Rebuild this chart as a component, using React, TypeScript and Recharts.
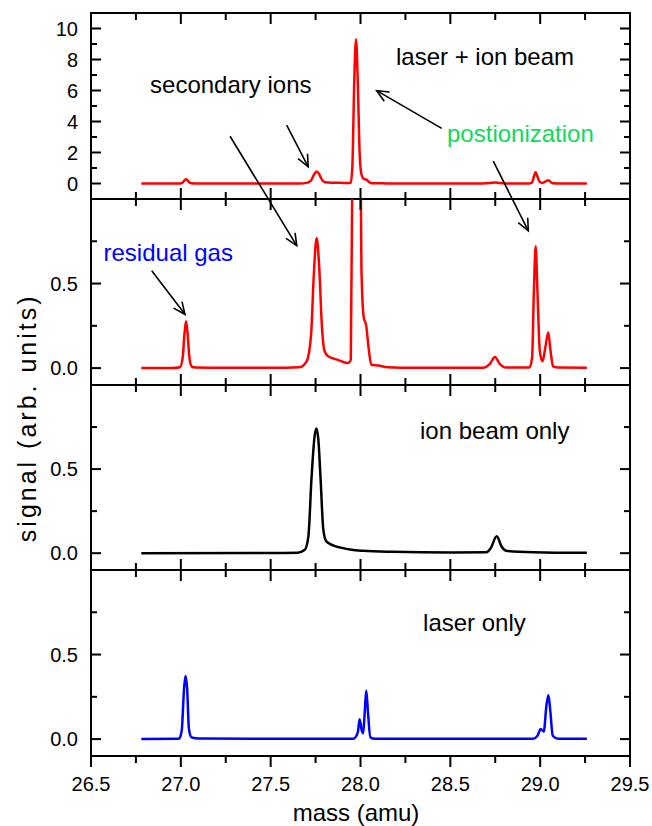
import React from "react";
import { LineChart, Line, XAxis, YAxis, ReferenceLine, ReferenceDot, ReferenceArea } from "recharts";

const W = 652;
const FONT = '"Liberation Sans", Arial, sans-serif';

// axis ticks
const massMajor = [26.5, 27.0, 27.5, 28.0, 28.5, 29.0, 29.5];
const massMinor = [26.75, 27.25, 27.75, 28.25, 28.75, 29.25];
const bigMajor = [0, 2, 4, 6, 8, 10];
const bigMinor = [1, 3, 5, 7, 9];
const smallMajor = [0, 0.5];
const smallMinor = [0.25, 0.75];

// laser + ion beam (red), used by the two top panels
const redMass = [
  26.78, 26.95, 26.995, 27.01, 27.02, 27.029, 27.038, 27.048, 27.06, 27.08, 27.5, 27.66, 27.7, 27.725,
  27.74, 27.756, 27.77, 27.785, 27.8, 27.82, 27.87, 27.93, 27.946, 27.955, 27.965, 27.975, 27.985,
  27.995, 28.005, 28.018, 28.032, 28.045, 28.06, 28.1, 28.15, 28.3, 28.68, 28.72, 28.748, 28.775,
  28.81, 28.94, 28.955, 28.965, 28.975, 28.985, 28.998, 29.013, 29.03, 29.045, 29.058, 29.072, 29.1,
  29.26,
];
const redSignal = [
  0, 0, 0.005, 0.06, 0.2, 0.277, 0.2, 0.06, 0.01, 0.003, 0.002, 0.005, 0.04, 0.2, 0.55, 0.77, 0.6,
  0.25, 0.1, 0.07, 0.05, 0.03, 0.05, 1.2, 6.5, 9.3, 6.5, 2, 0.6, 0.3, 0.25, 0.12, 0.02, 0.015, 0.005,
  0.002, 0.002, 0.025, 0.065, 0.025, 0.003, 0.003, 0.06, 0.45, 0.72, 0.45, 0.1, 0.04, 0.13, 0.21, 0.1,
  0.01, 0.003, 0.002,
];

// ion beam only (black)
const blackMass = [
  26.78, 27.5, 27.65, 27.69, 27.71, 27.727, 27.745, 27.755, 27.765, 27.778, 27.793, 27.81, 27.85,
  27.89, 27.95, 28.015, 28.18, 28.5, 28.7, 28.725, 28.758, 28.785, 28.81, 28.88, 29.1, 29.26,
];
const blackSignal = [
  0, 0.001, 0.003, 0.02, 0.1, 0.44, 0.7, 0.742, 0.68, 0.44, 0.14, 0.07, 0.045, 0.033, 0.02, 0.014,
  0.008, 0.004, 0.005, 0.03, 0.1, 0.04, 0.015, 0.008, 0.003, 0.002,
];

// laser only (blue)
const blueMass = [
  26.78, 26.99, 27.005, 27.018, 27.026, 27.035, 27.045, 27.06, 27.1, 27.96, 27.985, 27.995, 28.007,
  28.015, 28.023, 28.032, 28.042, 28.055, 28.08, 28.96, 28.985, 29.003, 29.02, 29.035, 29.046,
  29.057, 29.07, 29.1, 29.26,
];
const blueSignal = [
  0, 0.002, 0.05, 0.3, 0.373, 0.3, 0.06, 0.01, 0.003, 0.002, 0.04, 0.118, 0.05, 0.035, 0.15, 0.288,
  0.15, 0.01, 0.002, 0.002, 0.02, 0.06, 0.045, 0.2, 0.26, 0.16, 0.02, 0.002, 0.002,
];

const rows = (m: number[], s: number[]) => m.map((x, i) => ({ m: x, s: s[i] }));

// one tick mark, starting on the frame at (cx, cy)
const tickMark = (dx: number, dy: number) => (p: any) => (
  <path d={`M${p.cx},${p.cy}l${dx},${dy}`} stroke="#000" strokeWidth={2} fill="none" />
);

const arrow = (p: any) => {
  const { x1, y1, x2, y2 } = p;
  const a = Math.atan2(y2 - y1, x2 - x1);
  const L = 13;
  const w = 0.42;
  const ax = x2 - L * Math.cos(a - w);
  const ay = y2 - L * Math.sin(a - w);
  const bx = x2 - L * Math.cos(a + w);
  const by = y2 - L * Math.sin(a + w);
  return (
    <g>
      <line x1={x1} y1={y1} x2={x2} y2={y2} stroke="#000" strokeWidth={1.6} />
      <polyline points={`${ax},${ay} ${x2},${y2} ${bx},${by}`} fill="none" stroke="#000" strokeWidth={1.6} />
    </g>
  );
};

const note = (text: string, color = "#000", size = 24, angle = 0, spacing = 0) => (p: any) => (
  <text
    x={p.cx}
    y={p.cy}
    dy="0.35em"
    textAnchor="middle"
    fontSize={size}
    fontFamily={FONT}
    fill={color}
    letterSpacing={spacing}
    transform={angle ? `rotate(${angle} ${p.cx} ${p.cy})` : undefined}
  >
    {text}
  </text>
);

type PanelProps = {
  height: number;
  top?: number;
  domain: [number, number];
  major: number[];
  minor: number[];
  fmt: (v: number) => string;
  data: { m: number; s: number }[];
  color: string;
  clip?: boolean;
  last?: boolean;
  children?: React.ReactNode;
};

const Panel = ({ height, top = 0, domain, major, minor, fmt, data, color, clip, last, children }: PanelProps) => {
  const [lo, hi] = domain;
  const xLen = (v: number) => (massMajor.includes(v) ? 11 : 7);
  const yLen = (v: number) => (major.includes(v) ? 10 : 6);
  return (
    <LineChart width={W} height={height} data={data} margin={{ top, right: 22, bottom: 0, left: 31 }}>
      <XAxis
        dataKey="m"
        type="number"
        domain={[26.5, 29.5]}
        ticks={massMajor}
        hide={!last}
        height={70}
        axisLine={false}
        tickLine={false}
        tickSize={0}
        tickMargin={21}
        tick={{ fill: "#000", fontSize: 20, fontFamily: FONT }}
        tickFormatter={(v: number) => v.toFixed(1)}
      />
      <YAxis
        type="number"
        domain={domain}
        allowDataOverflow={!!clip}
        ticks={major}
        width={60}
        axisLine={false}
        tickLine={false}
        tickSize={0}
        tickMargin={13}
        tick={{ fill: "#000", fontSize: 20, fontFamily: FONT }}
        tickFormatter={fmt}
      />
      <ReferenceArea
        x1={26.5}
        x2={29.5}
        y1={lo}
        y2={hi}
        ifOverflow="visible"
        fill="none"
        fillOpacity={0}
        stroke="#000"
        strokeWidth={2}
        strokeOpacity={1}
      />
      <Line dataKey="s" type="monotone" stroke={color} strokeWidth={2.5} dot={false} isAnimationActive={false} />
      {[...massMajor, ...massMinor].map((v) => (
        <ReferenceDot key={`b${v}`} x={v} y={lo} r={1} ifOverflow="visible" shape={tickMark(0, last ? xLen(v) : -xLen(v))} />
      ))}
      {[...massMajor, ...massMinor].map((v) => (
        <ReferenceDot key={`t${v}`} x={v} y={hi} r={1} ifOverflow="visible" shape={tickMark(0, xLen(v))} />
      ))}
      {[...major, ...minor].map((v) => (
        <ReferenceDot key={`l${v}`} x={26.5} y={v} r={1} ifOverflow="visible" shape={tickMark(yLen(v), 0)} />
      ))}
      {[...major, ...minor].map((v) => (
        <ReferenceDot key={`r${v}`} x={29.5} y={v} r={1} ifOverflow="visible" shape={tickMark(-yLen(v), 0)} />
      ))}
      {children}
    </LineChart>
  );
};

const one = (v: number) => v.toFixed(1);
const whole = (v: number) => String(v);

export default function App() {
  const red = rows(redMass, redSignal);
  return (
    <div style={{ position: "absolute", left: 0, top: 0, width: W }}>
      <style>{".recharts-surface{overflow:visible}"}</style>
      <Panel height={199} top={13} domain={[-1, 11]} major={bigMajor} minor={bigMinor} fmt={whole} data={red} color="#ff0000">
        <ReferenceLine segment={[{ x: 27.589, y: 3.77 }, { x: 27.709, y: 1.08 }]} ifOverflow="visible" shape={arrow} />
        <ReferenceLine segment={[{ x: 28.452, y: 3.56 }, { x: 28.09, y: 5.99 }]} ifOverflow="visible" shape={arrow} />
        <ReferenceDot x={28.693} y={8.19} r={0} ifOverflow="visible" shape={note("laser + ion beam")} />
        <ReferenceDot x={27.278} y={6.36} r={0} ifOverflow="visible" shape={note("secondary ions")} />
        <ReferenceDot x={28.89} y={3.2} r={0} ifOverflow="visible" shape={note("postionization", "#12d85c")} />
      </Panel>
      <Panel height={186} domain={[-0.1, 1]} major={smallMajor} minor={smallMinor} fmt={one} data={red} color="#ff0000" clip>
        <ReferenceLine segment={[{ x: 27.274, y: 1.371 }, { x: 27.645, y: 0.724 }]} ifOverflow="visible" shape={arrow} />
        <ReferenceLine segment={[{ x: 28.739, y: 1.224 }, { x: 28.934, y: 0.812 }]} ifOverflow="visible" shape={arrow} />
        <ReferenceLine segment={[{ x: 26.838, y: 0.576 }, { x: 27.023, y: 0.318 }]} ifOverflow="visible" shape={arrow} />
        <ReferenceDot x={26.93} y={0.685} r={0} ifOverflow="visible" shape={note("residual gas", "#0000ff")} />
        <ReferenceDot x={26.144} y={-0.294} r={0} ifOverflow="visible" shape={note("signal (arb. units)", "#000", 25, -90, 3)} />
      </Panel>
      <Panel height={185} domain={[-0.1, 1]} major={smallMajor} minor={smallMinor} fmt={one} data={rows(blackMass, blackSignal)} color="#000000">
        <ReferenceDot x={28.747} y={0.726} r={0} ifOverflow="visible" shape={note("ion beam only")} />
      </Panel>
      <Panel height={256} domain={[-0.1, 1]} major={smallMajor} minor={smallMinor} fmt={one} data={rows(blueMass, blueSignal)} color="#0000ff" last>
        <ReferenceDot x={28.634} y={0.69} r={0} ifOverflow="visible" shape={note("laser only")} />
        <ReferenceDot x={27.975} y={-0.432} r={0} ifOverflow="visible" shape={note("mass (amu)")} />
      </Panel>
    </div>
  );
}
